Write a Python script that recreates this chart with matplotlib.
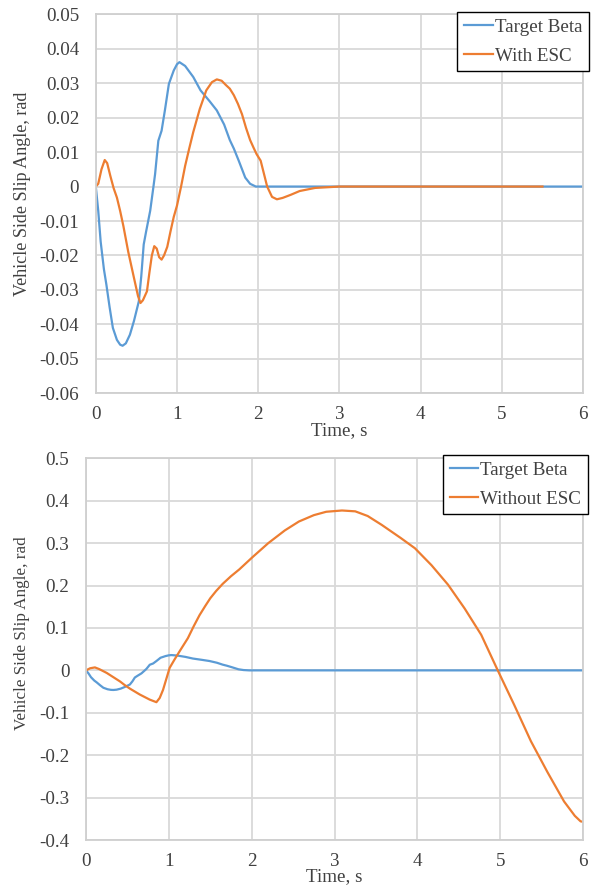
import matplotlib
matplotlib.use("Agg")
import matplotlib.pyplot as plt

# target side slip (same reference for both runs)
t_target = [0.0, 0.03, 0.06, 0.10, 0.13, 0.17, 0.21, 0.26, 0.30, 0.33, 0.37,
            0.42, 0.47, 0.53, 0.56, 0.59, 0.62, 0.67, 0.71, 0.73, 0.77, 0.81,
            0.85, 0.90, 0.96, 1.00, 1.03, 1.10, 1.20, 1.29, 1.40, 1.49, 1.58,
            1.65, 1.70, 1.76, 1.84, 1.90, 1.97, 2.5, 6.0]
beta_target = [0.0, -0.007, -0.016, -0.024, -0.0284, -0.035, -0.041, -0.0445,
               -0.0459, -0.0462, -0.0455, -0.0430, -0.039, -0.0333, -0.026,
               -0.0168, -0.013, -0.007, 0.0, 0.0036, 0.0133, 0.0162, 0.022,
               0.0298, 0.0337, 0.0355, 0.0361, 0.0350, 0.0318, 0.0279, 0.0248,
               0.0221, 0.0180, 0.0135, 0.0110, 0.0075, 0.0026, 0.0008, 0.0,
               0.0, 0.0]

# with ESC
t_esc = [0.0, 0.03, 0.07, 0.11, 0.14, 0.18, 0.22, 0.26, 0.30, 0.34, 0.40,
         0.47, 0.52, 0.55, 0.58, 0.63, 0.66, 0.69, 0.72, 0.75, 0.78, 0.81,
         0.84, 0.88, 0.92, 0.96, 1.00, 1.05, 1.10, 1.15, 1.20, 1.28, 1.36,
         1.43, 1.49, 1.55, 1.60, 1.65, 1.70, 1.75, 1.80, 1.85, 1.90, 1.94,
         1.98, 2.03, 2.11, 2.17, 2.23, 2.30, 2.40, 2.51, 2.70, 3.0, 5.5]
beta_esc = [0.0, 0.0008, 0.005, 0.0077, 0.0068, 0.003, -0.0005, -0.0032,
            -0.0071, -0.0115, -0.019, -0.0265, -0.0318, -0.0338, -0.0330,
            -0.0304, -0.0250, -0.0200, -0.0173, -0.0180, -0.0205, -0.0212,
            -0.0200, -0.0175, -0.0130, -0.0088, -0.0055, 0.0, 0.0060, 0.0110,
            0.0158, 0.0225, 0.0279, 0.0303, 0.0311, 0.0307, 0.0295, 0.0284,
            0.0265, 0.0240, 0.0210, 0.0170, 0.0135, 0.0114, 0.0094, 0.0075,
            0.0, -0.0030, -0.0037, -0.0033, -0.0024, -0.0013, -0.0004, 0.0,
            0.0]

# without ESC
t_noesc = [0.0, 0.05, 0.108, 0.16, 0.25, 0.33, 0.41, 0.47, 0.53, 0.59, 0.65,
           0.71, 0.77, 0.81, 0.85, 0.89, 0.93, 0.97, 1.01, 1.07, 1.13, 1.23,
           1.30, 1.37, 1.44, 1.50, 1.57, 1.65, 1.75, 1.85, 2.01, 2.20, 2.40,
           2.57, 2.75, 2.90, 3.09, 3.25, 3.40, 3.57, 3.80, 3.97, 4.17, 4.37,
           4.57, 4.77, 4.97, 5.17, 5.37, 5.57, 5.77, 5.90, 5.97, 6.0]
beta_noesc = [0.0, 0.005, 0.007, 0.003, -0.006, -0.016, -0.026, -0.035,
              -0.043, -0.050, -0.057, -0.063, -0.069, -0.072, -0.075, -0.065,
              -0.046, -0.020, 0.006, 0.026, 0.045, 0.076, 0.104, 0.130, 0.152,
              0.170, 0.187, 0.204, 0.222, 0.238, 0.267, 0.300, 0.330, 0.351,
              0.366, 0.374, 0.377, 0.375, 0.364, 0.343, 0.312, 0.288, 0.248,
              0.202, 0.146, 0.084, 0.0, -0.082, -0.167, -0.240, -0.309,
              -0.343, -0.356, -0.357]

x_ticks = [0, 1, 2, 3, 4, 5, 6]
y_ticks_top = [-0.06, -0.05, -0.04, -0.03, -0.02, -0.01, 0, 0.01, 0.02, 0.03, 0.04, 0.05]
y_ticks_bot = [-0.4, -0.3, -0.2, -0.1, 0, 0.1, 0.2, 0.3, 0.4, 0.5]

BLUE = "#5B9BD5"
ORANGE = "#ED7D31"
GRID = "#D9D9D9"
TXT = "#404040"

plt.rcParams["font.family"] = ["Liberation Serif", "DejaVu Serif"]
plt.rcParams["font.size"] = 13.7

fig = plt.figure(figsize=(5.95, 8.86), dpi=100)
ax1 = fig.add_axes([0.161, 0.5561, 0.819, 0.4278])
ax2 = fig.add_axes([0.1445, 0.0519, 0.8355, 0.4308])


def style(ax, yticks, label_pos, label_size, xlabel_y):
    ax.set_xlim(0, 6)
    ax.set_ylim(yticks[0], yticks[-1])
    ax.set_xticks(x_ticks)
    ax.set_xticklabels([str(v) for v in x_ticks])
    ax.set_yticks(yticks)
    ax.set_yticklabels(["{:g}".format(v) for v in yticks])
    ax.grid(True, color=GRID, lw=1.3)
    ax.set_axisbelow(True)
    for s in ax.spines.values():
        s.set_color("#CFCFCF")
        s.set_linewidth(1.3)
    ax.tick_params(length=0, colors=TXT, labelsize=13.7)
    ax.tick_params(axis="y", pad=12)
    ax.tick_params(axis="x", pad=9)
    ax.set_ylabel("Vehicle Side Slip Angle, rad", color=TXT,
                  fontsize=label_size, va="center")
    ax.yaxis.set_label_coords(*label_pos)
    ax.set_xlabel("Time, s", color=TXT)
    ax.xaxis.set_label_coords(0.5, xlabel_y)


def add_legend(ax, anchor):
    leg = ax.legend(loc="upper right", bbox_to_anchor=anchor,
                    bbox_transform=fig.transFigure, fancybox=False,
                    edgecolor="black", framealpha=1, handlelength=1.5,
                    handletextpad=0.1, borderpad=0.35, labelspacing=0.6,
                    borderaxespad=0, fontsize=13.7, labelcolor=TXT)
    leg.get_frame().set_linewidth(1.0)


style(ax1, y_ticks_top, (-0.151, 0.526), 13.1, -0.076)
ax1.plot(t_target, beta_target, color=BLUE, lw=1.6, label="Target Beta")
ax1.plot(t_esc, beta_esc, color=ORANGE, lw=1.6, label="With ESC")
add_legend(ax1, (0.9894, 0.9865))

style(ax2, y_ticks_bot, (-0.129, 0.542), 12.3, -0.073)
ax2.plot(t_target, beta_target, color=BLUE, lw=1.6, label="Target Beta")
ax2.plot(t_noesc, beta_noesc, color=ORANGE, lw=1.6, label="Without ESC")
add_legend(ax2, (0.988, 0.4865))

fig.savefig("out.png", dpi=100)
